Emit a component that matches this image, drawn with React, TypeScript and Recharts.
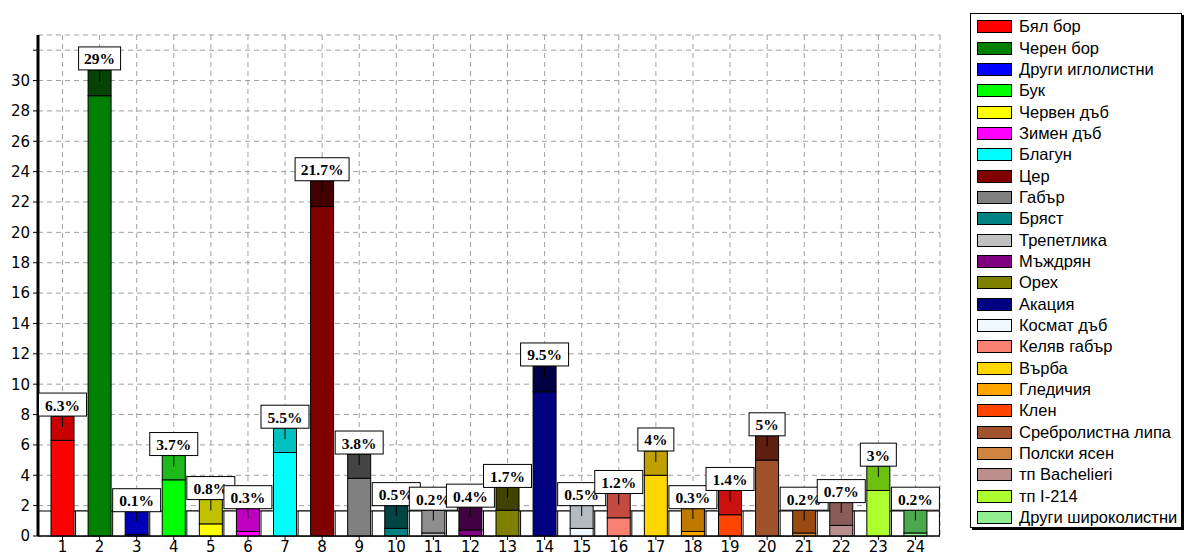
import React from "react";
import { BarChart, Bar, XAxis, YAxis, CartesianGrid, Cell, LabelList } from "recharts";

const categories = ["1", "2", "3", "4", "5", "6", "7", "8", "9", "10", "11", "12", "13", "14", "15", "16", "17", "18", "19", "20", "21", "22", "23", "24"];

const species = [
  "Бял бор", "Черен бор", "Други иглолистни", "Бук", "Червен дъб", "Зимен дъб",
  "Благун", "Цер", "Габър", "Бряст", "Трепетлика", "Мъждрян", "Орех", "Акация",
  "Космат дъб", "Келяв габър", "Върба", "Гледичия", "Клен", "Сребролистна липа",
  "Полски ясен", "тп Bachelieri", "тп I-214", "Други широколистни",
];

// share in % (light part of the bar)
const shares = [6.3, 29, 0.1, 3.7, 0.8, 0.3, 5.5, 21.7, 3.8, 0.5, 0.2, 0.4, 1.7, 9.5, 0.5, 1.2, 4, 0.3, 1.4, 5, 0.2, 0.7, 3, 0.2];
// dark cap on top of each bar
const spread = [1.6, 1.7, 1.5, 1.6, 1.6, 1.5, 1.6, 1.7, 1.6, 1.5, 1.5, 1.5, 1.5, 1.7, 1.5, 1.6, 1.6, 1.5, 1.6, 1.6, 1.5, 1.5, 1.6, 1.5];

const fills = [
  "#FF0000", "#008000", "#0000FF", "#00FF00", "#FFFF00", "#FF00FF", "#00FFFF", "#800000",
  "#808080", "#008080", "#C0C0C0", "#800080", "#808000", "#000080", "#F0F8FF", "#FA8072",
  "#FFD700", "#FFA500", "#FF4500", "#A0522D", "#CD853F", "#BC8F8F", "#ADFF2F", "#90EE90",
];
const darkFills = [
  "#C80000", "#064406", "#0000B8", "#1CB81C", "#C0C000", "#C000C0", "#00C0C0", "#420000",
  "#444444", "#004444", "#8E8E8E", "#420042", "#424200", "#000042", "#B4BAC0", "#C44A40",
  "#C0A000", "#C07800", "#CC1010", "#602010", "#984A10", "#8A5C5C", "#6CC010", "#4CA84C",
];

const yTicks = [0, 2, 4, 6, 8, 10, 12, 14, 16, 18, 20, 22, 24, 26, 28, 30, 32];

const data = categories.map((name, i) => ({ name, share: shares[i], spread: spread[i] }));

const axisFont = { fill: "#000", fontSize: 15, fontFamily: "DejaVu Sans" };

function LowerBar(props: any) {
  const { x, y, width, height, fill } = props;
  const bottom = y + height;
  const cx = x + width / 2;
  return (
    <g>
      <rect x={cx - 24} y={bottom - 25} width={48} height={25} fill="#fff" stroke="#000" />
      <rect x={x} y={y} width={width} height={height} fill={fill} stroke="#000" />
    </g>
  );
}

function UpperBar(props: any) {
  const { x, y, width, height, fill } = props;
  const cx = x + width / 2;
  return (
    <g>
      <rect x={x} y={y} width={width} height={height} fill={fill} stroke="#000" />
      <line x1={cx} x2={cx} y1={y} y2={y + height * 0.45} stroke="#000" />
    </g>
  );
}

function ShareLabel(props: any) {
  const vb = props.viewBox || {};
  const x = props.x ?? vb.x;
  const y = props.y ?? vb.y;
  const width = props.width ?? vb.width;
  const text = `${props.value}%`;
  const w = text.length * 6 + 24;
  const cx = x + width / 2;
  return (
    <g>
      <rect x={cx - w / 2} y={y - 23} width={w} height={23} fill="#fff" stroke="#000" />
      <text x={cx} y={y - 11} textAnchor="middle" dominantBaseline="central"
        fontFamily="Liberation Serif" fontWeight="bold" fontSize={15.5} fill="#000">
        {text}
      </text>
    </g>
  );
}

function SpeciesLegend() {
  return (
    <div style={{
      position: "absolute", left: 970, top: 13, width: 212, height: 515, boxSizing: "border-box",
      border: "1px solid #000", boxShadow: "2px 2px 0 #000", background: "#fff", paddingTop: 2,
      fontFamily: "Liberation Sans", fontSize: 16.5, color: "#000",
    }}>
      {species.map((s, i) => (
        <div key={s} style={{ height: 21.35, display: "flex", alignItems: "center", whiteSpace: "nowrap" }}>
          <span style={{
            display: "inline-block", width: 35, height: 13, boxSizing: "border-box", marginLeft: 6,
            marginRight: 7, border: "1px solid #000", background: fills[i],
          }} />
          {s}
        </div>
      ))}
    </div>
  );
}

export default function App() {
  return (
    <div style={{ position: "absolute", left: 0, top: 0, width: 1184, height: 558, background: "#fff" }}>
      <BarChart width={945} height={558} data={data} margin={{ top: 35, right: 5, left: 8, bottom: 2 }} barSize={23}>
        <CartesianGrid stroke="#a0a0a0" strokeDasharray="5 4" />
        <XAxis
          dataKey="name"
          padding={{ left: 6, right: 6 }}
          height={20}
          interval={0}
          tickSize={4}
          tickMargin={1}
          tickLine={{ stroke: "#000" }}
          axisLine={{ stroke: "#000" }}
          tick={axisFont}
        />
        <XAxis xAxisId="top" dataKey="name" orientation="top" height={0} tick={false} tickLine={false} axisLine={{ stroke: "#000" }} />
        <YAxis
          domain={[0, 33]}
          ticks={yTicks}
          interval={0}
          width={30}
          tickSize={5}
          tickMargin={3}
          tickFormatter={(v: number) => (v === 32 ? "" : String(v))}
          tickLine={{ stroke: "#000" }}
          axisLine={{ stroke: "#000", strokeWidth: 3 }}
          tick={axisFont}
        />
        <YAxis yAxisId="right" orientation="right" width={0} tick={false} tickLine={false} axisLine={{ stroke: "#000" }} />
        <Bar dataKey="share" stackId="a" shape={(p: any) => <LowerBar {...p} />} isAnimationActive={false}>
          {data.map((d, i) => <Cell key={d.name} fill={fills[i]} />)}
        </Bar>
        <Bar dataKey="spread" stackId="a" shape={(p: any) => <UpperBar {...p} />} isAnimationActive={false}>
          {data.map((d, i) => <Cell key={d.name} fill={darkFills[i]} />)}
          <LabelList dataKey="share" content={(p: any) => <ShareLabel {...p} />} />
        </Bar>
      </BarChart>
      <SpeciesLegend />
    </div>
  );
}
